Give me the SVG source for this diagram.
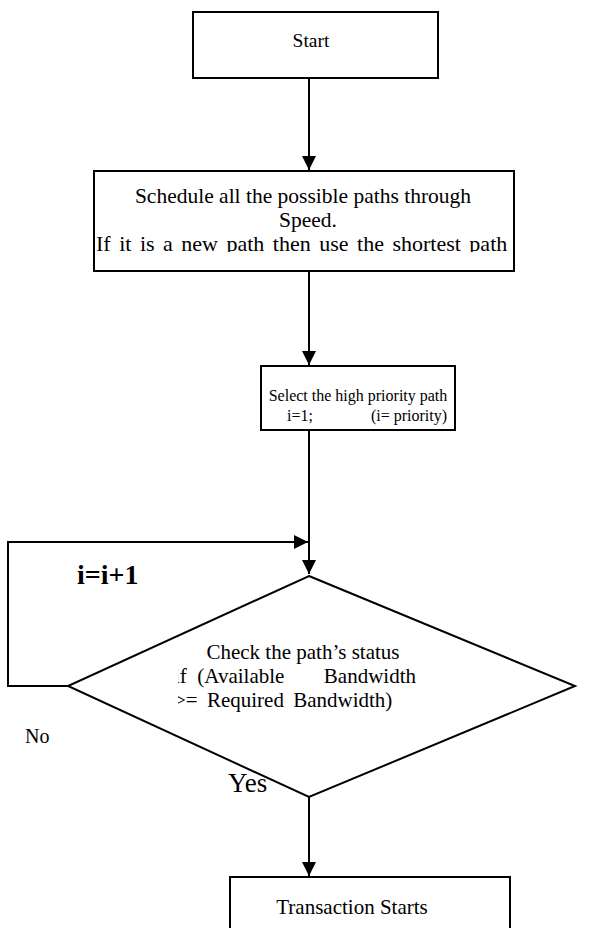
<svg xmlns="http://www.w3.org/2000/svg" width="595" height="928" viewBox="0 0 595 928">
<style>
.box{fill:#fff;stroke:#000;stroke-width:2}
.ln{fill:none;stroke:#000;stroke-width:2}
.t{font-family:"Liberation Serif","Times New Roman",serif;fill:#000}
</style>
<defs>
<marker id="ah" viewBox="0 0 10 10" refX="10" refY="5" markerWidth="14" markerHeight="14" markerUnits="userSpaceOnUse" orient="auto">
<path d="M0,0 L10,5 L0,10 z" fill="#000"/>
</marker>
<clipPath id="c1"><rect x="94" y="171" width="420" height="81"/></clipPath>
<clipPath id="c2"><rect x="178" y="630" width="300" height="100"/></clipPath>
</defs>
<g id="connectors">
<line class="ln" x1="309" y1="78" x2="309" y2="170" marker-end="url(#ah)"/>
<line class="ln" x1="309" y1="271" x2="309" y2="365" marker-end="url(#ah)"/>
<line class="ln" x1="309" y1="430" x2="309" y2="574" marker-end="url(#ah)"/>
<polyline class="ln" points="68,686 8,686 8,542 308,542" marker-end="url(#ah)"/>
<line class="ln" x1="309" y1="797" x2="309" y2="876" marker-end="url(#ah)"/>
<text class="t" x="77" y="584" font-size="28" font-weight="bold">i=i+1</text>
<text class="t" x="25" y="743" font-size="20">No</text>
<text class="t" x="228" y="792" font-size="27">Yes</text>
</g>
<g id="start">
<rect class="box" x="193" y="12" width="245" height="66"/>
<text class="t" x="311" y="47" font-size="19.5" text-anchor="middle">Start</text>
</g>
<g id="schedule">
<rect class="box" x="94" y="171" width="420" height="100"/>
<g clip-path="url(#c1)">
<text class="t" x="303" y="203" font-size="21.5" text-anchor="middle">Schedule all the possible paths through</text>
<text class="t" x="308" y="227" font-size="21.5" text-anchor="middle">Speed.</text>
<text class="t" x="96" y="251" font-size="22" word-spacing="3">If it is a new path then use the shortest path</text>
</g>
</g>
<g id="select">
<rect class="box" x="261" y="366" width="194" height="64"/>
<text class="t" x="358" y="401" font-size="16" text-anchor="middle">Select the high priority path</text>
<text class="t" x="287" y="421" font-size="16">i=1;</text>
<text class="t" x="447" y="421" font-size="16" text-anchor="end">(i= priority)</text>
</g>
<g id="check">
<polygon class="box" points="309,576 575,686 309,797 68,686"/>
<g clip-path="url(#c2)">
<text class="t" x="303" y="659" font-size="21" text-anchor="middle">Check the path’s status</text>
<text class="t" x="174" y="683" font-size="21" xml:space="preserve">if  (Available</text>
<text class="t" x="416" y="683" font-size="21" text-anchor="end">Bandwidth</text>
<text class="t" x="174" y="707" font-size="21" word-spacing="4">&gt;= Required Bandwidth)</text>
</g>
</g>
<g id="transaction">
<rect class="box" x="230" y="877" width="280" height="60"/>
<text class="t" x="352" y="914" font-size="21" text-anchor="middle">Transaction Starts</text>
</g>
</svg>
